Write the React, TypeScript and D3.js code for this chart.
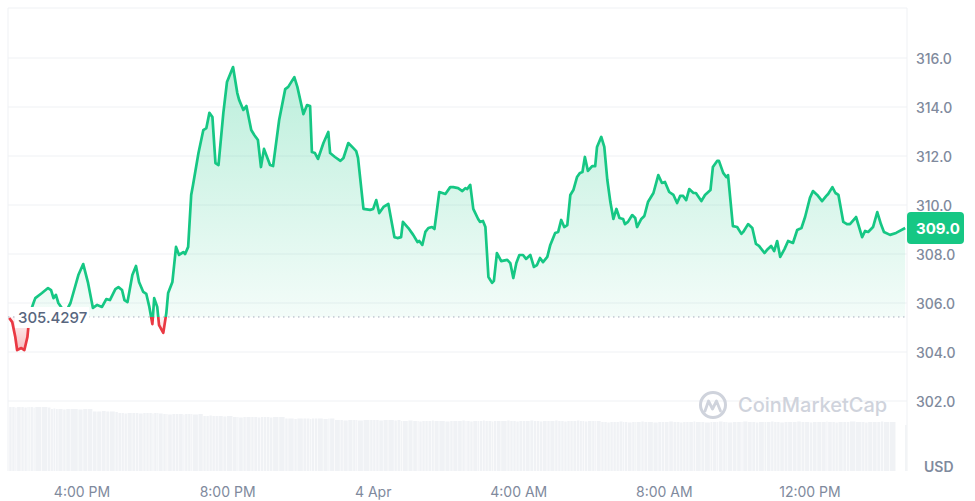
import React from "react";
import * as d3 from "d3";

const W = 975;
const H = 501;
const START = new Date(2024, 3, 3, 14, 0).getTime();

// [minutes since Apr 3 14:00, price USD]
const priceSeries: [number, number][] = [
  [0, 305.39], [5, 305.22], [10, 304.61], [13, 304.08], [20, 304.16], [25, 304.08], [30, 304.61],
  [33, 305.39], [36, 305.71], [40, 306.0], [43, 306.2], [54, 306.41], [64, 306.61], [69, 306.53],
  [73, 306.2], [77, 306.33], [81, 306.0], [89, 305.71], [94, 305.67], [101, 306.0], [114, 307.14],
  [122, 307.59], [130, 306.82], [138, 305.8], [145, 305.92], [153, 305.84], [160, 306.16], [166, 306.12],
  [175, 306.57], [180, 306.65], [186, 306.53], [190, 306.12], [195, 306.04], [203, 307.14], [209, 307.51],
  [214, 306.86], [221, 306.45], [226, 306.37], [231, 305.84], [236, 305.14], [239, 306.2], [244, 305.84],
  [247, 305.1], [254, 304.78], [259, 305.59], [262, 306.41], [269, 306.86], [275, 308.29], [280, 307.96],
  [287, 308.08], [290, 308.0], [295, 308.29], [300, 310.41], [303, 310.82], [312, 312.12], [320, 313.06],
  [325, 313.14], [330, 313.76], [335, 313.59], [340, 311.71], [345, 311.63], [353, 313.76], [359, 315.02],
  [369, 315.63], [376, 314.57], [379, 314.29], [386, 313.88], [391, 314.04], [399, 313.06], [404, 312.86],
  [410, 312.65], [415, 311.55], [420, 312.29], [425, 311.96], [430, 311.63], [435, 311.59], [445, 313.47],
  [455, 314.73], [460, 314.82], [470, 315.22], [475, 314.82], [485, 313.71], [491, 314.08], [496, 314.04],
  [499, 312.16], [504, 312.12], [509, 311.88], [518, 312.53], [526, 312.98], [529, 312.12], [537, 311.96],
  [546, 311.8], [551, 311.92], [559, 312.53], [567, 312.33], [572, 312.2], [575, 311.92], [584, 309.84],
  [595, 309.8], [600, 309.84], [605, 310.2], [610, 309.67], [617, 309.92], [625, 310.04], [635, 308.69],
  [640, 308.65], [646, 308.69], [649, 309.31], [658, 309.06], [666, 308.78], [673, 308.49], [676, 308.53],
  [681, 308.37], [686, 308.9], [691, 309.06], [697, 309.1], [701, 309.02], [709, 310.53], [719, 310.45],
  [727, 310.73], [732, 310.73], [740, 310.69], [747, 310.57], [752, 310.69], [755, 310.65], [760, 310.82],
  [765, 309.84], [773, 309.43], [776, 309.31], [781, 309.35], [785, 309.1], [790, 307.06], [796, 306.82],
  [799, 306.9], [804, 308.04], [811, 307.71], [821, 307.76], [826, 307.63], [831, 307.02], [836, 307.63],
  [841, 307.96], [847, 307.96], [852, 307.8], [859, 307.96], [865, 307.47], [870, 307.55], [875, 307.84],
  [880, 307.67], [887, 307.88], [892, 308.37], [900, 308.86], [905, 308.9], [910, 309.39], [915, 309.1],
  [920, 309.18], [925, 310.41], [930, 310.61], [936, 311.14], [941, 311.31], [945, 311.35], [949, 311.96],
  [954, 311.39], [961, 311.59], [966, 311.59], [969, 312.37], [976, 312.78], [981, 312.37], [986, 311.02],
  [991, 310.12], [996, 309.43], [1001, 309.84], [1006, 309.47], [1012, 309.43], [1015, 309.22], [1020, 309.31],
  [1027, 309.59], [1032, 309.47], [1035, 309.1], [1042, 309.43], [1047, 309.55], [1053, 310.12], [1062, 310.49],
  [1070, 311.22], [1076, 310.9], [1081, 310.94], [1088, 310.53], [1095, 310.41], [1101, 310.08], [1106, 310.37],
  [1111, 310.37], [1116, 310.2], [1121, 310.65], [1128, 310.49], [1132, 310.49], [1141, 310.16], [1147, 310.41],
  [1156, 310.61], [1160, 311.55], [1167, 311.8], [1170, 311.8], [1177, 311.31], [1182, 311.14], [1185, 311.22],
  [1193, 309.14], [1200, 309.1], [1207, 308.82], [1210, 308.9], [1218, 309.22], [1225, 309.06], [1231, 308.41],
  [1236, 308.33], [1245, 308.04], [1249, 308.16], [1256, 308.33], [1261, 308.12], [1266, 308.53], [1271, 307.88],
  [1278, 308.2], [1284, 308.53], [1292, 308.45], [1299, 308.98], [1306, 309.06], [1312, 309.51], [1320, 310.29],
  [1325, 310.57], [1332, 310.41], [1340, 310.16], [1347, 310.37], [1350, 310.45], [1357, 310.73], [1362, 310.49],
  [1367, 310.41], [1375, 309.31], [1381, 309.22], [1386, 309.22], [1396, 309.51], [1406, 308.69], [1411, 308.94],
  [1416, 308.9], [1424, 309.1], [1431, 309.71], [1437, 309.22], [1442, 308.9], [1452, 308.78], [1462, 308.86],
  [1477, 309.06],
];

// [minutes since Apr 3 14:00, volume (M USD)]
const volumeSeries: [number, number][] = [
  [0, 128], [5, 128], [10, 127], [13, 128], [20, 128], [25, 127], [30, 128], [33, 128], [36, 128], [40, 127],
  [43, 128], [54, 128], [64, 127], [69, 124], [73, 125], [77, 124], [81, 124], [89, 123], [94, 124], [101, 124],
  [114, 123], [122, 124], [130, 124], [138, 119], [145, 119], [153, 120], [160, 119], [166, 119], [175, 118],
  [180, 116], [186, 116], [190, 115], [195, 116], [203, 116], [209, 116], [214, 115], [221, 116], [226, 116],
  [231, 116], [236, 115], [239, 116], [244, 116], [247, 115], [254, 114], [259, 114], [262, 113], [269, 114],
  [275, 114], [280, 114], [287, 113], [290, 114], [295, 114], [300, 114], [303, 113], [312, 114], [320, 110],
  [325, 110], [330, 111], [335, 110], [340, 110], [345, 110], [353, 109], [359, 110], [369, 108], [376, 108],
  [379, 107], [386, 108], [391, 108], [399, 108], [404, 108], [410, 107], [415, 108], [420, 108], [425, 108],
  [430, 107], [435, 108], [445, 108], [455, 105], [460, 105], [470, 104], [475, 105], [485, 105], [491, 105],
  [496, 104], [499, 105], [504, 105], [509, 105], [518, 104], [526, 105], [529, 105], [537, 102], [546, 102],
  [551, 101], [559, 102], [567, 102], [572, 102], [575, 101], [584, 102], [595, 102], [600, 102], [605, 102],
  [610, 101], [617, 102], [625, 102], [635, 101], [640, 102], [646, 100], [649, 100], [658, 101], [666, 100],
  [673, 100], [676, 99], [681, 100], [686, 100], [691, 100], [697, 101], [701, 100], [709, 100], [719, 99],
  [727, 100], [732, 100], [740, 100], [747, 101], [752, 100], [755, 100], [760, 99], [765, 100], [773, 100],
  [776, 100], [781, 101], [785, 100], [790, 100], [796, 99], [799, 100], [804, 100], [811, 100], [821, 101],
  [826, 100], [831, 100], [836, 99], [841, 100], [847, 100], [852, 100], [859, 101], [865, 100], [870, 100],
  [875, 99], [880, 100], [887, 100], [892, 100], [900, 101], [905, 100], [910, 100], [915, 99], [920, 100],
  [925, 100], [930, 100], [936, 101], [941, 100], [945, 100], [949, 99], [954, 100], [961, 100], [966, 100],
  [969, 100], [976, 98], [981, 98], [986, 97], [991, 98], [996, 98], [1001, 98], [1006, 99], [1012, 98],
  [1015, 98], [1020, 97], [1027, 98], [1032, 98], [1035, 98], [1042, 99], [1047, 98], [1053, 98], [1062, 97],
  [1070, 98], [1076, 98], [1081, 98], [1088, 99], [1095, 98], [1101, 98], [1106, 97], [1111, 98], [1116, 98],
  [1121, 98], [1128, 99], [1132, 98], [1141, 98], [1147, 97], [1156, 98], [1160, 98], [1167, 98], [1170, 99],
  [1177, 98], [1182, 98], [1185, 97], [1193, 98], [1200, 98], [1207, 98], [1210, 99], [1218, 98], [1225, 98],
  [1231, 97], [1236, 98], [1245, 98], [1249, 98], [1256, 99], [1261, 98], [1266, 98], [1271, 97], [1278, 98],
  [1284, 98], [1292, 98], [1299, 99], [1306, 98], [1312, 98], [1320, 97], [1325, 98], [1332, 98], [1340, 98],
  [1347, 99], [1350, 98], [1357, 98], [1362, 97], [1367, 98], [1375, 98], [1381, 98], [1386, 99], [1396, 98],
  [1406, 98], [1411, 97], [1416, 98], [1424, 98], [1431, 98], [1437, 99], [1442, 98], [1452, 98], [1462, 0],
  [1477, 92],
];

const baselinePrice = 305.4297;
const baselineLabel = "305.4297";
const lastPriceLabel = "309.0";
const currencyLabel = "USD";
const yTickValues = [302, 304, 306, 308, 310, 312, 314, 316];
const xTickMinutes = [120, 360, 600, 840, 1080, 1320];
const xTickLabels = ["4:00 PM", "8:00 PM", "4 Apr", "4:00 AM", "8:00 AM", "12:00 PM"];
const watermarkText = "CoinMarketCap";

const GREEN = "#16c784";
const RED = "#ea3943";
const GRID = "#eff1f4";
const AXIS_TEXT = "#808a9d";
const FONT = "Inter, 'Noto Sans', sans-serif";

const toDate = (m: number) => new Date(START + m * 60000);

export default function App() {
  const left = 8;
  const right = 907;
  const top = 8;
  const bottom = 471;

  const x = d3
    .scaleTime()
    .domain([toDate(-2), toDate(1480)])
    .range([left, right]);
  const y = d3.scaleLinear().domain([302, 316]).range([401, 58]);
  const yVol = d3.scaleLinear().domain([0, 132]).range([bottom, 405]);

  const baseY = y(baselinePrice);

  const line = d3
    .line<[number, number]>()
    .x((d) => x(toDate(d[0])))
    .y((d) => y(d[1]))
    .curve(d3.curveLinear);
  const area = d3
    .area<[number, number]>()
    .x((d) => x(toDate(d[0])))
    .y0(baseY)
    .y1((d) => y(d[1]))
    .curve(d3.curveLinear);

  const linePath = line(priceSeries) || "";
  const areaPath = area(priceSeries) || "";

  const last = priceSeries[priceSeries.length - 1];
  const lastY = y(last[1]);

  return (
    <div style={{ position: "absolute", left: 0, top: 0, width: W, height: H, background: "#fff" }}>
      <svg width={W} height={H} viewBox={`0 0 ${W} ${H}`} style={{ display: "block", fontFamily: FONT }}>
        <defs>
          <clipPath id="clipAbove">
            <rect x={0} y={0} width={right} height={baseY} />
          </clipPath>
          <clipPath id="clipBelow">
            <rect x={0} y={baseY} width={right} height={H - baseY} />
          </clipPath>
          <linearGradient id="gradGreen" gradientUnits="userSpaceOnUse" x1={0} y1={y(316)} x2={0} y2={baseY}>
            <stop offset="0%" stopColor={GREEN} stopOpacity={0.3} />
            <stop offset="100%" stopColor={GREEN} stopOpacity={0.05} />
          </linearGradient>
          <linearGradient id="gradRed" gradientUnits="userSpaceOnUse" x1={0} y1={baseY} x2={0} y2={y(304)}>
            <stop offset="0%" stopColor={RED} stopOpacity={0.05} />
            <stop offset="100%" stopColor={RED} stopOpacity={0.35} />
          </linearGradient>
        </defs>

        {/* frame */}
        <line x1={left} x2={right} y1={top} y2={top} stroke={GRID} strokeWidth={1} />
        <line x1={left} x2={left} y1={top} y2={bottom} stroke={GRID} strokeWidth={1} />
        <line x1={right} x2={right} y1={top} y2={bottom} stroke={GRID} strokeWidth={1} />

        {/* grid */}
        {yTickValues.map((v) => (
          <line key={v} x1={left} x2={right} y1={y(v)} y2={y(v)} stroke={GRID} strokeWidth={1} />
        ))}

        {/* volume bars */}
        <g>
          {volumeSeries.map((d, i) => {
            const x0 = x(toDate(d[0]));
            const next = volumeSeries[i + 1];
            const x1 = next ? x(toDate(next[0])) : x0 + 2.2;
            const w = Math.max(0.8, x1 - x0 - 0.6);
            if (d[1] <= 0) return null;
            return (
              <rect key={i} x={x0} y={yVol(d[1])} width={w} height={bottom - yVol(d[1])} fill="#f0f2f5" />
            );
          })}
        </g>

        {/* watermark */}
        <g>
          <circle cx={713} cy={405} r={12.5} fill="none" stroke="#cfd3dc" strokeWidth={3} />
          <path
            d="M705,411 L708.5,401 L712.5,409 L716.5,401 L720.5,411"
            fill="none"
            stroke="#cfd3dc"
            strokeWidth={2.8}
            strokeLinejoin="round"
            strokeLinecap="round"
          />
          <text x={738} y={405} dominantBaseline="central" fontSize={20} fontWeight={500} fill="#cfd3dc">
            {watermarkText}
          </text>
        </g>

        {/* areas */}
        <path d={areaPath} fill="url(#gradGreen)" clipPath="url(#clipAbove)" />
        <path d={areaPath} fill="url(#gradRed)" clipPath="url(#clipBelow)" />

        {/* baseline */}
        <line
          x1={left}
          x2={right}
          y1={baseY}
          y2={baseY}
          stroke="#a6adbd"
          strokeWidth={1}
          strokeDasharray="1.5 3.5"
        />

        {/* price line */}
        <path d={linePath} fill="none" stroke={GREEN} strokeWidth={2.7} strokeLinejoin="round" clipPath="url(#clipAbove)" />
        <path d={linePath} fill="none" stroke={RED} strokeWidth={2.7} strokeLinejoin="round" clipPath="url(#clipBelow)" />

        {/* baseline label */}
        <rect x={15} y={baseY - 10} width={74} height={21} fill="#ffffff" />
        <text x={18} y={baseY + 0.5} dominantBaseline="central" fontSize={15} fontWeight={500} fill="#58667e">
          {baselineLabel}
        </text>

        {/* y axis labels */}
        {yTickValues.map((v) => (
          <text key={v} x={916} y={y(v)} dominantBaseline="central" fontSize={14} fontWeight={500} fill={AXIS_TEXT}>
            {v.toFixed(1)}
          </text>
        ))}

        {/* last price badge */}
        <rect x={right} y={lastY - 16} width={57} height={32} rx={4} fill={GREEN} />
        <text x={916} y={lastY} dominantBaseline="central" fontSize={15} fontWeight={700} fill="#ffffff">
          {lastPriceLabel}
        </text>

        {/* currency */}
        <text x={924} y={466} dominantBaseline="central" fontSize={14} fontWeight={600} fill={AXIS_TEXT}>
          {currencyLabel}
        </text>

        {/* x axis labels */}
        {xTickMinutes.map((m, i) => (
          <text
            key={m}
            x={x(toDate(m))}
            y={491}
            textAnchor="middle"
            dominantBaseline="central"
            fontSize={14}
            fontWeight={400}
            fill={AXIS_TEXT}
          >
            {xTickLabels[i]}
          </text>
        ))}
      </svg>
    </div>
  );
}
